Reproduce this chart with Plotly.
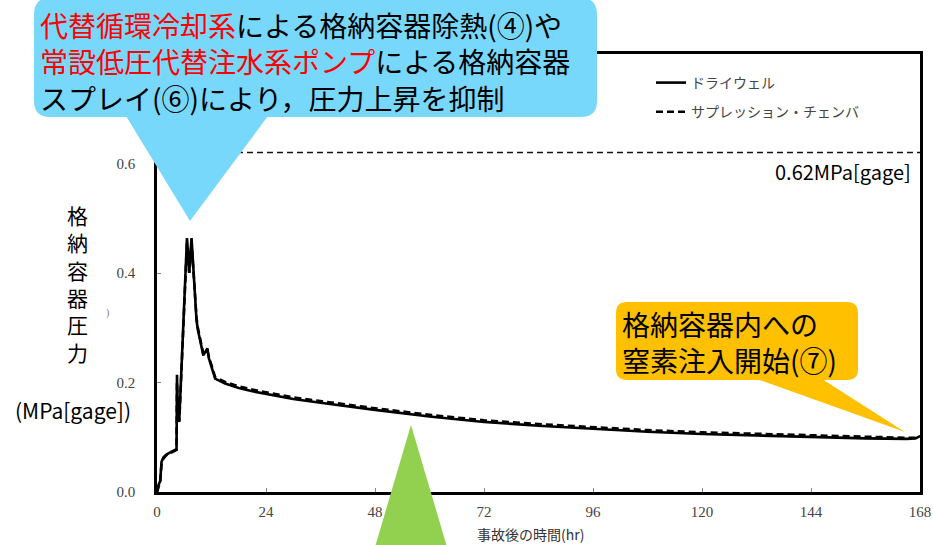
import plotly.graph_objects as go

# ---------------- data ----------------
time_hr = [0, 0.3, 0.7, 1.0, 1.4, 2.0, 3.0, 4.0, 4.3, 4.4, 4.6, 4.9, 6.6, 7.1, 7.6,
           8.7, 9.0, 10.2, 11.1, 11.4, 12.8, 15, 18, 21, 24, 30, 36, 42, 48, 60,
           72, 84, 96, 108, 120, 132, 144, 156, 165, 167, 168]
drywell = [0, 0.012, 0.02, 0.055, 0.063, 0.068, 0.073, 0.077, 0.078, 0.214, 0.14, 0.13,
           0.464, 0.40, 0.464, 0.314, 0.296, 0.25, 0.262, 0.245, 0.207, 0.198, 0.190,
           0.184, 0.179, 0.170, 0.163, 0.156, 0.150, 0.138, 0.128, 0.121, 0.115, 0.110,
           0.106, 0.103, 0.100, 0.098, 0.097, 0.098, 0.102]
suppression = [0, 0.010, 0.018, 0.052, 0.061, 0.067, 0.072, 0.076, 0.077, 0.200, 0.135, 0.128,
               0.455, 0.40, 0.458, 0.318, 0.300, 0.252, 0.258, 0.248, 0.210, 0.201, 0.193,
               0.187, 0.182, 0.173, 0.166, 0.159, 0.153, 0.141, 0.131, 0.124, 0.118, 0.113,
               0.109, 0.106, 0.103, 0.100, 0.099, 0.099, 0.102]
limit_x = [0, 168]
limit_y = [0.62, 0.62]

x_ticks = [0, 24, 48, 72, 96, 120, 144, 168]
y_ticks = [0.0, 0.2, 0.4, 0.6]
y_ticktext = ["0.0", "0.2", "0.4", "0.6"]

series_names = ["ドライウェル", "サプレッション・チェンバ"]

# ---------------- layout geometry ----------------
W, H = 933, 545
ML, MR, MT, MB = 157, 13, 54, 53
PW, PH = W - ML - MR, H - MT - MB


def P(x, y):
    """pixel -> paper coordinates"""
    return (x - ML) / PW, (H - MB - y) / PH


def path_from(points, closed=True):
    s = ""
    for cmd, pts in points:
        s += cmd + " ".join("%.5f,%.5f" % P(*p) for p in pts) + " "
    return s + ("Z" if closed else "")


def rrect(x0, y0, x1, y1, r):
    return path_from([
        ("M", [(x0 + r, y0)]), ("L", [(x1 - r, y0)]), ("Q", [(x1, y0), (x1, y0 + r)]),
        ("L", [(x1, y1 - r)]), ("Q", [(x1, y1), (x1 - r, y1)]),
        ("L", [(x0 + r, y1)]), ("Q", [(x0, y1), (x0, y1 - r)]),
        ("L", [(x0, y0 + r)]), ("Q", [(x0, y0), (x0 + r, y0)]),
    ])


def tri(a, b, c):
    return path_from([("M", [a]), ("L", [b]), ("L", [c])])


BLUE = "#78D8FC"
ORANGE = "#FFC000"
GREEN = "#92D050"
CJK = "Noto Sans CJK JP"

fig = go.Figure()
fig.add_trace(go.Scatter(x=limit_x, y=limit_y, mode="lines", showlegend=False,
                         line=dict(color="#111111", width=1.5, dash="6px,4px"),
                         hoverinfo="skip"))
fig.add_trace(go.Scatter(x=time_hr, y=drywell, mode="lines", name=series_names[0],
                         legendgroup="a", line=dict(color="black", width=2.6)))
fig.add_trace(go.Scatter(x=time_hr, y=suppression, mode="lines", name=series_names[1],
                         legendgroup="b", line=dict(color="black", width=2.6, dash="7px,4px")))

shapes = [
    dict(type="path", path=rrect(34, -2, 597, 117, 16), fillcolor=BLUE, line=dict(width=0),
         xref="paper", yref="paper", layer="above"),
    dict(type="path", path=tri((126, 116), (268, 116), (190, 221)), fillcolor=BLUE,
         line=dict(width=0), xref="paper", yref="paper", layer="above"),
    dict(type="path", path=rrect(616, 302, 858, 380, 11), fillcolor=ORANGE, line=dict(width=0),
         xref="paper", yref="paper", layer="above"),
    dict(type="path", path=tri((757, 379), (822, 379), (905, 432)), fillcolor=ORANGE,
         line=dict(width=0), xref="paper", yref="paper", layer="above"),
    dict(type="path", path=tri((411, 425), (447, 547), (375, 547)), fillcolor=GREEN,
         line=dict(width=0), xref="paper", yref="paper", layer="above"),
]

red = lambda s: '<span style="color:#FF0000">%s</span>' % s
annotations = []


def ann(text, x, y, size, xanchor="left", yanchor="middle", color="black", family=CJK,
        align="left", pad=1):
    px_, py_ = P(x, y)
    annotations.append(dict(text=text, x=px_, y=py_, xref="paper", yref="paper",
                            xanchor=xanchor, yanchor=yanchor, showarrow=False, align=align,
                            borderpad=pad,
                            font=dict(size=size, color=color, family=family)))


ann(red("代替循環冷却系") + "による格納容器除熱(④)や<br>" + red("常設低圧代替注水系ポンプ")
    + "による格納容器<br>スプレイ(⑥)により，圧力上昇を抑制", 38, 61, 28)
ann("格納容器内への<br>窒素注入開始(⑦)", 620, 342, 28)
ann("0.62MPa[gage]", 913, 171, 20, xanchor="right")
ann("<br>".join("格納容器圧力"), 77, 283, 21, xanchor="center", align="center")
ann("(MPa[gage])", 73, 410, 21, xanchor="center")
ann(")", 107, 313, 10, xanchor="center", color="#777777", family="Liberation Serif")
ann("事故後の時間(hr)", 530, 534, 14, xanchor="center", color="#333333", pad=0)

fig.update_layout(
    width=W, height=H, margin=dict(l=ML, r=MR, t=MT, b=MB, autoexpand=False),
    paper_bgcolor="white", plot_bgcolor="white",
    shapes=shapes, annotations=annotations,
    showlegend=True,
    legend=dict(x=(651 - ML) / PW, y=(H - MB - 67) / PH, xanchor="left", yanchor="top",
                bgcolor="rgba(0,0,0,0)", borderwidth=0, tracegroupgap=8,
                font=dict(size=14, color="#444444", family=CJK)),
    xaxis=dict(range=[0, 168], tickvals=x_ticks, ticks="inside", ticklen=4, tickcolor="#888888",
               showline=True, linecolor="black", linewidth=2.5, mirror=True, showgrid=False,
               zeroline=False, ticklabelstandoff=4, automargin=False,
               tickfont=dict(family="Liberation Serif", size=15, color="#444444")),
    yaxis=dict(range=[0, 0.8], tickvals=y_ticks, ticktext=y_ticktext, ticks="inside", ticklen=4,
               tickcolor="#888888", showline=True, linecolor="black", linewidth=2.5, mirror=True,
               showgrid=False, zeroline=False, ticklabelstandoff=16, automargin=False,
               tickfont=dict(family="Liberation Serif", size=15, color="#444444")),
)

fig.write_html(
    "out.html",
    config={"displayModeBar": False, "responsive": False},
    post_script=("document.body.style.margin='0';"
                 "document.body.style.overflow='hidden';"
                 "document.documentElement.style.overflow='hidden';"),
)
